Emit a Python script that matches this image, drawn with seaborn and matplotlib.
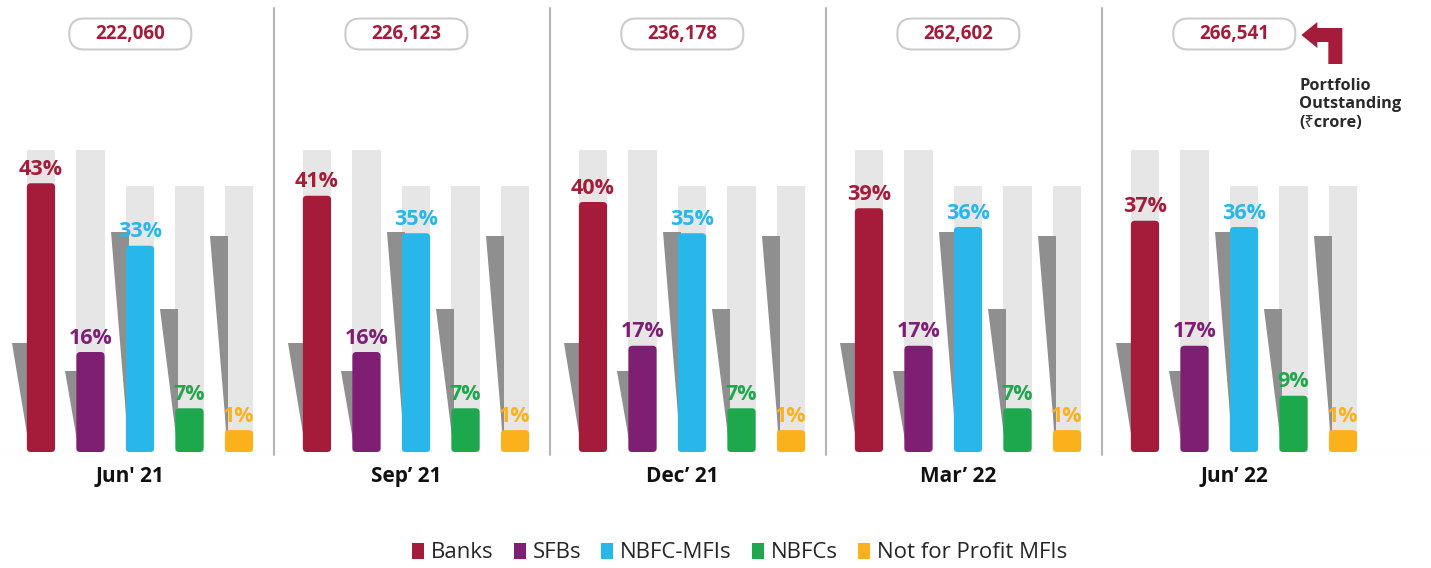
import numpy as np
import pandas as pd
import matplotlib.pyplot as plt
import seaborn as sns
from matplotlib.patches import FancyBboxPatch, Patch, Polygon

quarters = ["Jun' 21", "Sep’ 21", "Dec’ 21", "Mar’ 22", "Jun’ 22"]
segments = ["Banks", "SFBs", "NBFC-MFIs", "NBFCs", "Not for Profit MFIs"]

banks = [43, 41, 40, 39, 37]
sfbs = [16, 16, 17, 17, 17]
nbfc_mfis = [33, 35, 35, 36, 36]
nbfcs = [7, 7, 7, 7, 9]
npf_mfis = [1, 1, 1, 1, 1]

portfolio = ["222,060", "226,123", "236,178", "262,602", "266,541"]

# decorative backdrop, same for every quarter
backdrop_heights = [48.3, 48.3, 42.5, 42.5, 42.5]
shadow_heights = [17.4, 13.0, 35.2, 22.9, 34.6]
shadow_widths_px = [15, 11, 15, 15, 15]

colors = ["#a51c3a", "#7e1f74", "#29b6e9", "#1ea84e", "#fbb11b"]

shares = dict(zip(segments, [banks, sfbs, nbfc_mfis, nbfcs, npf_mfis]))
df = pd.DataFrame([(q, s, shares[s][i]) for i, q in enumerate(quarters) for s in segments],
                  columns=["quarter", "segment", "share"])
df["bar"] = df["share"].clip(lower=3.5)  # keep the 1% bars visible
bg = pd.DataFrame([(q, s, backdrop_heights[j]) for q in quarters for j, s in enumerate(segments)],
                  columns=["quarter", "segment", "height"])

PX_X = 276      # pixels per quarter
PX_Y = 6.25     # pixels per percentage point
ASP = PX_X / PX_Y
X0 = 140        # pixel position of first quarter
BASE = 452      # pixel row of the baseline
SHIFT = -0.035  # labels/pills sit a little left of the bar groups

sns.set_theme(style="white")
plt.rcParams["font.family"] = ["Open Sans", "DejaVu Sans"]

fig = plt.figure(figsize=(14.31, 5.68), dpi=100)
ax = fig.add_axes([0, (568 - BASE) / 568, 1, BASE / 568])

sns.barplot(data=bg, x="quarter", y="height", hue="segment", order=quarters, hue_order=segments,
            palette=["#e6e6e6"] * 5, width=0.897, gap=0.43, legend=False, ax=ax)
sns.barplot(data=df, x="quarter", y="bar", hue="segment", order=quarters, hue_order=segments,
            palette=colors, width=0.897, gap=0.43, legend=False, ax=ax)

for c in ax.containers[:5]:
    for r in c:
        r.set_zorder(1)
        r.set_edgecolor("none")

data_containers = ax.containers[5:]
for j, c in enumerate(data_containers):
    for r in c:
        x, y = r.get_xy()
        w, h = r.get_width(), r.get_height()
        r.set_visible(False)
        ax.add_patch(FancyBboxPatch((x, y), w, h,
                                    boxstyle=f"round,pad=0,rounding_size={4 / PX_X}",
                                    mutation_aspect=ASP, fc=colors[j], ec="none", zorder=3))
        sh = shadow_heights[j]
        ax.add_patch(Polygon([(x - shadow_widths_px[j] / PX_X, sh), (x + 3 / PX_X, sh), (x + 3 / PX_X, 0)],
                             closed=True, fc="#8f8f8f", ec="none", zorder=2))
    ax.bar_label(c, labels=[f"{v}%" for v in shares[segments[j]]], padding=2.5,
                 color=colors[j], fontsize=15.5, fontweight="bold", zorder=5)

# panel separators and baseline
for i in range(len(quarters) - 1):
    xs = i + 0.5 - 0.015
    ax.plot([xs, xs], [-0.5, 71], color="#b5b5b5", lw=1.5, clip_on=False, zorder=1)
ax.axhline(0, color="#ebebeb", lw=1, zorder=0.5)

# portfolio outstanding pills
pill_w, pill_h = 122 / PX_X, 31 / PX_Y
pill_y = (BASE - 34) / PX_Y
for i, txt in enumerate(portfolio):
    ax.add_patch(FancyBboxPatch((i + SHIFT - pill_w / 2, pill_y - pill_h / 2), pill_w, pill_h,
                                boxstyle=f"round,pad=0,rounding_size={15 / PX_X}",
                                mutation_aspect=ASP, fc="white", ec="#cccccc", lw=1.5, zorder=4))
    ax.text(i + SHIFT, pill_y, txt, ha="center", va="center", color=colors[0],
            fontsize=13.5, fontweight="bold", zorder=5)


def px(xp, yp):
    return ((xp - X0) / PX_X, (BASE - yp) / PX_Y)


# elbow arrow pointing at the last pill
tip = X0 + (len(portfolio) - 1 + SHIFT) * PX_X + 122 / 2 + 6
arrow = [(0, 35), (16, 22), (16, 28), (41, 28), (41, 64), (27, 64), (27, 42), (16, 42), (16, 48)]
ax.add_patch(Polygon([px(tip + dx, dy) for dx, dy in arrow], closed=True,
                     fc=colors[0], ec="none", zorder=5))
ax.text(*px(tip - 2, 78), "Portfolio\nOutstanding\n(₹crore)", ha="left", va="top",
        fontsize=11.8, fontweight="bold", color="#2a2a2a", linespacing=1.2,
        family=["Open Sans", "Noto Sans", "DejaVu Sans"])

ax.set_xlim(-X0 / PX_X, (1431 - X0) / PX_X)
ax.set_ylim(0, BASE / PX_Y)
ax.set_xticks([i + SHIFT for i in range(len(quarters))])
ax.set_xticklabels(quarters, fontsize=15, fontweight="bold", color="#111111")
ax.set_yticks([])
ax.set_xlabel("")
ax.set_ylabel("")
ax.tick_params(axis="x", length=0, pad=10)
sns.despine(ax=ax, left=True, bottom=True)

handles = [Patch(facecolor=c, edgecolor="none", label=s) for c, s in zip(colors, segments)]
fig.legend(handles=handles, loc="center", bbox_to_anchor=(739.5 / 1431, 1 - 553 / 568), ncol=5,
           frameon=False, prop={"family": ["Open Sans", "DejaVu Sans"], "size": 16},
           handlelength=0.55, handleheight=0.75, handletextpad=0.3, columnspacing=0.9,
           borderaxespad=0)

fig.savefig("out.png", dpi=100)
